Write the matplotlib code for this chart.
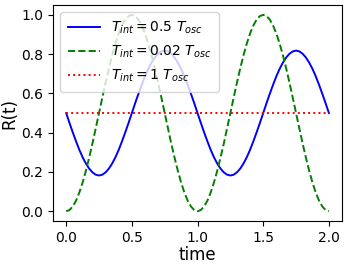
import numpy as np
import matplotlib.pyplot as plt

time = np.round(np.arange(0, 2.0001, 0.025), 3)

r_half = [0.500, 0.450, 0.402, 0.356, 0.313, 0.275, 0.243, 0.217, 0.198, 0.186,
          0.182, 0.186, 0.198, 0.217, 0.243, 0.275, 0.313, 0.356, 0.402, 0.450,
          0.500, 0.550, 0.598, 0.644, 0.687, 0.725, 0.757, 0.783, 0.802, 0.814,
          0.818, 0.814, 0.802, 0.783, 0.757, 0.725, 0.687, 0.644, 0.598, 0.550,
          0.500, 0.450, 0.402, 0.356, 0.313, 0.275, 0.243, 0.217, 0.198, 0.186,
          0.182, 0.186, 0.198, 0.217, 0.243, 0.275, 0.313, 0.356, 0.402, 0.450,
          0.500, 0.550, 0.598, 0.644, 0.687, 0.725, 0.757, 0.783, 0.802, 0.814,
          0.818, 0.814, 0.802, 0.783, 0.757, 0.725, 0.687, 0.644, 0.598, 0.550,
          0.500]
r_short = [0.000, 0.006, 0.024, 0.054, 0.095, 0.146, 0.206, 0.273, 0.345, 0.422,
           0.500, 0.578, 0.655, 0.727, 0.794, 0.854, 0.905, 0.946, 0.976, 0.994,
           1.000, 0.994, 0.976, 0.946, 0.905, 0.854, 0.794, 0.727, 0.655, 0.578,
           0.500, 0.422, 0.345, 0.273, 0.206, 0.146, 0.095, 0.054, 0.024, 0.006,
           0.000, 0.006, 0.024, 0.054, 0.095, 0.146, 0.206, 0.273, 0.345, 0.422,
           0.500, 0.578, 0.655, 0.727, 0.794, 0.854, 0.905, 0.946, 0.976, 0.994,
           1.000, 0.994, 0.976, 0.946, 0.905, 0.854, 0.794, 0.727, 0.655, 0.578,
           0.500, 0.422, 0.345, 0.273, 0.206, 0.146, 0.095, 0.054, 0.024, 0.006,
           0.000]
r_full = [0.50] * len(time)

labels = [r"$T_{int} = 0.5\ T_{osc}$",
          r"$T_{int} = 0.02\ T_{osc}$",
          r"$T_{int} = 1\ T_{osc}$"]

fig = plt.figure(figsize=(3.49, 2.66), dpi=100)
ax = fig.add_axes([0.152, 0.169, 0.828, 0.812])
ax.plot(time, r_half, "b-", lw=1.4, label=labels[0])
ax.plot(time, r_short, "g--", lw=1.4, label=labels[1])
ax.plot(time, r_full, "r:", lw=1.4, label=labels[2])
ax.set_xlabel("time", size=12, labelpad=1)
ax.set_ylabel("R(t)", size=12, labelpad=2)
ax.set_xticks([0, 0.5, 1.0, 1.5, 2.0])
ax.set_yticks([0, 0.2, 0.4, 0.6, 0.8, 1.0])
ax.tick_params(labelsize=10)
ax.legend(loc="upper left", fontsize=10, handlelength=2.3,
          handletextpad=0.8, borderpad=0.55, labelspacing=0.55)
fig.savefig("out.png", dpi=100)
